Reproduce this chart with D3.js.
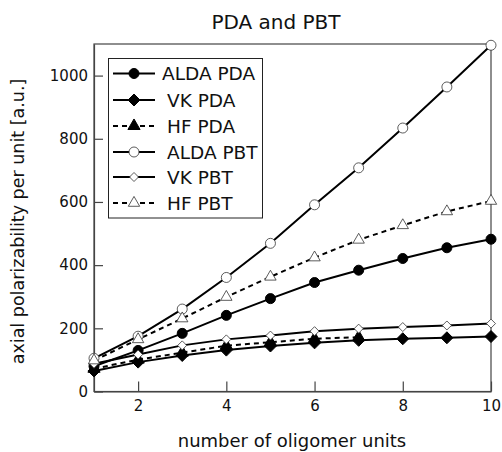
<!DOCTYPE html>
<html><head><meta charset="utf-8">
<script src="https://cdn.jsdelivr.net/npm/d3@7"></script>
<style>body{margin:0;background:#fff}svg{display:block}text{font-family:"DejaVu Sans",sans-serif;fill:#111}</style>
</head><body>
<script>
const units = [1,2,3,4,5,6,7,8,9,10];
const aldaPDA = [80,130,184,241,294,345,384,421,455,482];
const vkPDA = [65,93,114,131,144,154,162,167,170,174];
const hfPDA = [72,101,123,145,156,167,172];
const aldaPBT = [105,175,261,361,469,591,708,834,964,1096];
const vkPBT = [88,117,146,165,177,191,199,204,209,215];
const hfPBT = [98,165,231,299,363,424,480,526,570,603];
const xTicks = [2,4,6,8,10];
const yTicks = [0,200,400,600,800,1000];

const series = [
  {name:"ALDA PDA", vals:aldaPDA, marker:"circle", fill:true, dash:null, tx:162},
  {name:"VK PDA", vals:vkPDA, marker:"diamond", fill:true, dash:null, tx:167},
  {name:"HF PDA", vals:hfPDA, marker:"triangle", fill:true, dash:"5,4", tx:167},
  {name:"ALDA PBT", vals:aldaPBT, marker:"circle", fill:false, dash:null, tx:167},
  {name:"VK PBT", vals:vkPBT, marker:"diamond", fill:false, dash:null, tx:167},
  {name:"HF PBT", vals:hfPBT, marker:"triangle", fill:false, dash:"5,4", tx:167}
];

const W=502,H=452;
const L=94,R=491,T=44,B=391.5;
const svg=d3.select("body").append("svg").attr("width",W).attr("height",H);
const x=d3.scaleLinear().domain([1,10]).range([L,R]);
const y=d3.scaleLinear().domain([0,1100]).range([B,T]);

svg.append("rect").attr("x",L).attr("y",T).attr("width",R-L).attr("height",B-T)
  .attr("fill","none").attr("stroke","#444").attr("stroke-width",1.2);

const xa=svg.append("g").attr("transform",`translate(0,${B})`)
  .call(d3.axisBottom(x).tickValues(xTicks).tickFormat(d3.format("d")).tickSizeInner(-10).tickSizeOuter(0).tickPadding(9));
const ya=svg.append("g").attr("transform",`translate(${L},0)`)
  .call(d3.axisLeft(y).tickValues(yTicks).tickFormat(d3.format("d")).tickSizeInner(-9).tickSizeOuter(0).tickPadding(6));
[xa,ya].forEach(g=>{
  g.select(".domain").attr("stroke","#444").attr("stroke-width",1.2);
  g.selectAll(".tick line").attr("stroke","#444").attr("stroke-width",1.2);
  g.selectAll(".tick text").attr("font-size",15).attr("font-family","DejaVu Sans, sans-serif").attr("fill","#111");
});
ya.selectAll(".tick text").attr("x",-6);

function drawMarker(g,s,cx,cy){
  const fill=s.fill?"#000":"#fff", stroke=s.fill?"#000":"#333", sw=s.fill?1:0.8;
  if(s.marker==="circle"){
    g.append("circle").attr("cx",cx).attr("cy",cy).attr("r",5)
      .attr("fill",fill).attr("stroke",stroke).attr("stroke-width",sw);
  } else if(s.marker==="diamond"){
    const w=s.fill?6:4.5, h=s.fill?6:4.5;
    g.append("path").attr("d",`M0,${-h}L${w},0L0,${h}L${-w},0Z`)
      .attr("transform",`translate(${cx},${cy})`)
      .attr("fill",fill).attr("stroke",stroke).attr("stroke-width",sw);
  } else {
    const size = s.fill?64:56;
    g.append("path").attr("d",d3.symbol().type(d3.symbolTriangle).size(size)())
      .attr("transform",`translate(${cx},${cy})`)
      .attr("fill",fill).attr("stroke",stroke).attr("stroke-width",sw);
  }
}

const line=d3.line().x((d,i)=>x(units[i])).y(d=>y(d));
const plot=svg.append("g");
series.forEach(s=>{
  plot.append("path").attr("d",line(s.vals)).attr("fill","none").attr("stroke","#000")
    .attr("stroke-width",2).attr("stroke-dasharray",s.dash);
});
series.forEach(s=>{
  s.vals.forEach((v,i)=>drawMarker(plot,s,x(units[i]),y(v)));
});

const lg=svg.append("g");
lg.append("rect").attr("x",108.5).attr("y",58.5).attr("width",154).attr("height",159.5)
  .attr("fill","#fff").attr("stroke","#222").attr("stroke-width",1);
const rowY=[73.5,100,126,152,177,203];
series.forEach((s,i)=>{
  const yy=rowY[i];
  lg.append("line").attr("x1",113).attr("x2",155).attr("y1",yy).attr("y2",yy)
    .attr("stroke","#000").attr("stroke-width",2).attr("stroke-dasharray",s.dash);
  drawMarker(lg,s,134,yy);
  lg.append("text").attr("x",s.tx).attr("y",yy).attr("dy","0.36em").attr("font-size",18.5).text(s.name);
});

svg.append("text").attr("x",276).attr("y",29).attr("text-anchor","middle").attr("font-size",20).text("PDA and PBT");
svg.append("text").attr("x",292).attr("y",447).attr("text-anchor","middle").attr("font-size",18).text("number of oligomer units");
svg.append("text").attr("transform","translate(24,221.5) rotate(-90)").attr("text-anchor","middle").attr("font-size",17.5).text("axial polarizability per unit [a.u.]");
</script>
</body></html>
